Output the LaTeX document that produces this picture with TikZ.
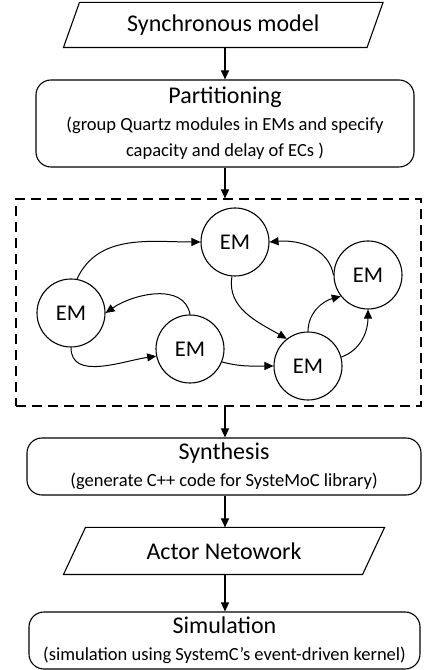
\documentclass[tikz,border=0pt]{standalone}
\usepackage{fontspec}
\setmainfont{Carlito}
\usetikzlibrary{arrows.meta}

\begin{document}
\begin{tikzpicture}[x=1pt,y=1pt,line width=1.1pt,
        >={Triangle[length=9pt,width=8pt]},
        proc/.style={draw,rounded corners=15pt,align=center,inner sep=0pt,
            font=\fontsize{18.5}{26.5}\selectfont},
        io/.style={inner sep=0pt,font=\fontsize{24}{28}\selectfont},
        em/.style={draw,circle,minimum size=68pt,inner sep=0pt,
            font=\fontsize{22.5}{26}\selectfont},
        link/.style={->,line width=1pt}]

        \useasboundingbox (0,0) rectangle (426,670);

        \node[io,minimum width=302.5pt,minimum height=44pt] (sync) at (223.25,645) {Synchronous model};
        \draw ([xshift=-8pt]sync.south west) -- ([xshift=8pt]sync.north west)
            -- ([xshift=8pt]sync.north east) -- ([xshift=-8pt]sync.south east) -- cycle;
        \node[proc,minimum width=378pt,minimum height=87pt] (part) at (225,546.5)
            {{\fontsize{24}{26}\selectfont Partitioning}\\
             (group Quartz modules in EMs and specify\\
             capacity and delay of ECs )};
        \node[draw,dashed,dash pattern=on 10pt off 6pt,minimum width=405pt,minimum height=207pt] (frame) at (218.5,367.5) {};

        \node[em] (emT) at (235,428) {EM};
        \node[em] (emR) at (368,395) {EM};
        \node[em] (emL) at (71,357) {EM};
        \node[em] (emM) at (190,321) {EM};
        \node[em] (emB) at (308,304) {EM};

        \node[proc,minimum width=394pt,minimum height=57pt] (synth) at (224,203.5)
            {{\fontsize{24}{26}\selectfont Synthesis}\\
             (generate C++ code for SysteMoC library)};
        \node[io,minimum width=298pt,minimum height=46pt] (actor) at (224,119) {Actor Netowork};
        \draw ([xshift=-11pt]actor.south west) -- ([xshift=11pt]actor.north west)
            -- ([xshift=11pt]actor.north east) -- ([xshift=-11pt]actor.south east) -- cycle;
        \node[proc,minimum width=391pt,minimum height=57pt] (sim) at (224.5,29.5)
            {{\fontsize{24}{26}\selectfont Simulation}\\
             (simulation using SystemC’s event-driven kernel)};

        % flow
        \draw[->] (part.north |- sync.south) -- (part.north);
        \draw[->] (part.south) -- (part.south |- frame.north);
        \draw[->] (part.south |- frame.south) -- (part.south |- synth.north);
        \draw[->] (part.south |- synth.south) -- (part.south |- actor.north);
        \draw[->] (part.south |- actor.south) -- (part.south |- sim.north);

        % EM graph
        \draw[link] (emL.80) to[out=65,in=180] (emT.west);
        \draw[link] (emM.north) to[out=100,in=35] (emL.east);
        \draw[link] (emL.south) to[out=-90,in=188] (emM.192);
        \draw[link] (emM.-22) to[out=-15,in=180] (emB.west);
        \draw[link] (emT.-95) to[out=-100,in=150] (emB.128);
        \draw[link] (emB.north) to[out=90,in=195] (emR.218);
        \draw[link] (emB.15) to[out=20,in=-90] (emR.south);
        \draw[link] (emR.west) to[out=100,in=5] (emT.east);
\end{tikzpicture}
\end{document}
